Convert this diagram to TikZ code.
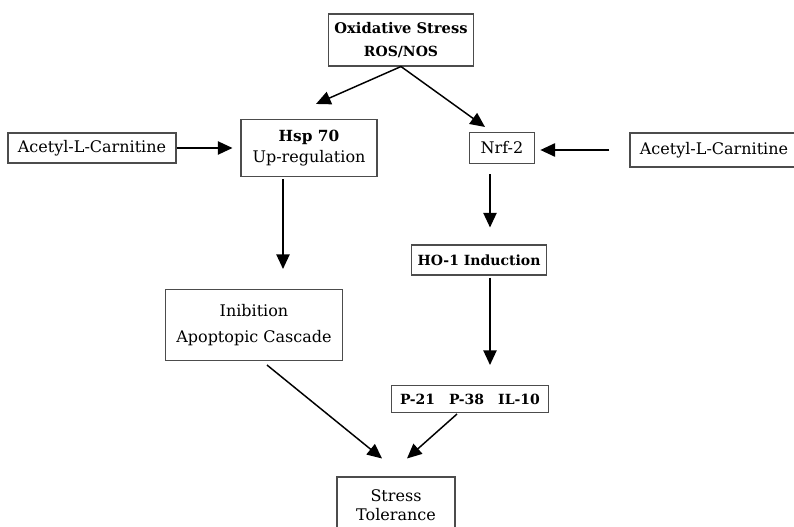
\documentclass[tikz,border=0pt]{standalone}
\usepackage{fontspec}
\setmainfont{DejaVu Serif}
\usetikzlibrary{calc, arrows.meta, positioning}

\begin{document}
\begin{tikzpicture}[x=0.75pt, y=-0.75pt,
    box/.style={draw=black!70, line width=0.8pt, align=center, inner sep=0pt,
        font=\fontsize{12}{16}\selectfont},
    arr/.style={-{Triangle[length=11pt, width=10pt]}, line width=1.1pt}]
    \useasboundingbox (0,0) rectangle (794,527);

    % Boxes
    \node[box, minimum width=108.75pt, minimum height=39pt] (ox) at (401,40)
        {{\fontsize{11}{14}\selectfont\textbf{Oxidative Stress}}\\[1pt]{\fontsize{10.5}{12}\selectfont\textbf{ROS/NOS}}};
    \node[box, minimum width=126pt, minimum height=22.5pt] (accL) at (92,148) {Acetyl-L-Carnitine};
    \node[box, minimum width=102pt, minimum height=42.75pt] (hsp) at (309,148)
        {{\fontsize{11.5}{14}\selectfont\textbf{Hsp 70}}\\Up-regulation};
    \node[box, minimum width=48.75pt, minimum height=23.25pt] (nrf) at (502,148) {Nrf-2};
    \node[box, minimum width=126pt, minimum height=25.5pt] (accR) at (714,150) {Acetyl-L-Carnitine};
    \node[box, minimum width=101.25pt, minimum height=22.5pt, font=\fontsize{10.5}{12}\selectfont\bfseries]
        (ho) at (479,260) {HO-1 Induction};
    \node[box, minimum width=132.75pt, minimum height=53.25pt] (inib) at (254,325)
        {Inibition\\[4pt]Apoptopic Cascade};
    \node[box, minimum width=117.75pt, minimum height=20.25pt, font=\fontsize{10.5}{12}\selectfont\bfseries]
        (p21) at (470,399) {P-21\quad P-38\quad IL-10};
    \node[box, minimum width=88.5pt, minimum height=42pt, font=\fontsize{12}{14}\selectfont]
        (st) at (396,505) {Stress\\Tolerance};

    % Arrows
    \draw[arr] (ox.south) -- ($(hsp.north)+(7,-15)$);
    \draw[arr] (ox.south) -- ($(nrf.north)+(-17,-5)$);
    \draw[arr, shorten >=6pt] (accL.east) -- (hsp.west |- accL.east);
    \draw[arr, shorten >=4pt] ($(accR.west)+(-20,0)$) -- (nrf.east |- accR.west);
    \draw[arr] ($(hsp.south)+(-26,2)$) -- ($(inib.north)+(29,-20)$);
    \draw[arr] ($(nrf.south)+(-12,10)$) -- ($(ho.north)+(11,-17)$);
    \draw[arr] ($(ho.south)+(11,2)$) -- ($(p21.north)+(20,-20)$);
    \draw[arr] ($(inib.south)+(13,4)$) -- ($(st.north)+(-14,-18)$);
    \draw[arr] ($(p21.south)+(-13,1)$) -- ($(st.north)+(11,-18)$);
\end{tikzpicture}
\end{document}
